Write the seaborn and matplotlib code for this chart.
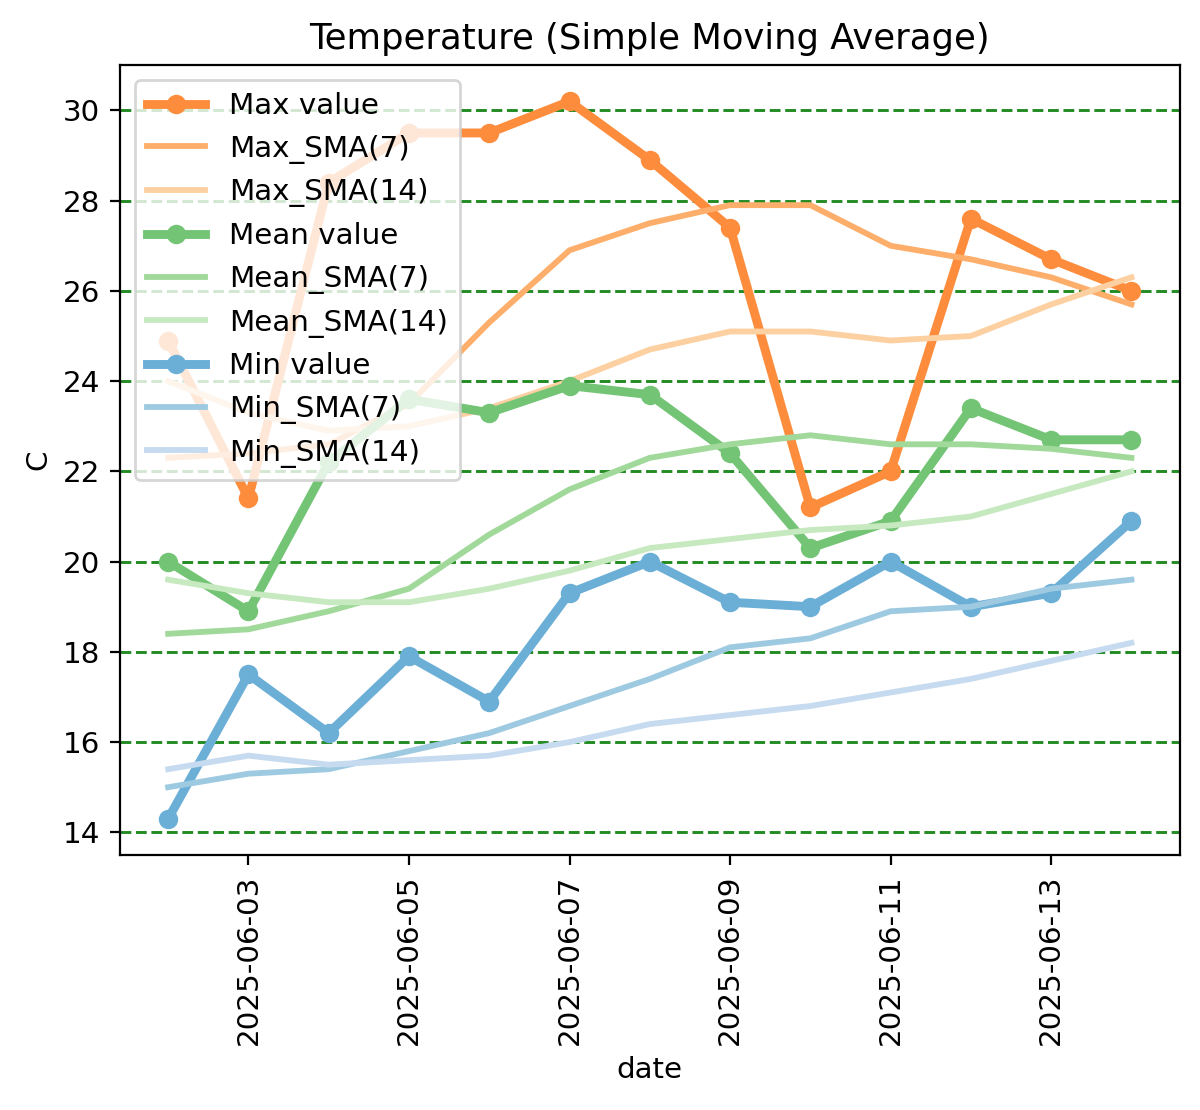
import matplotlib
matplotlib.use('Agg')
import matplotlib.pyplot as plt
import pandas as pd
import seaborn as sns

dates = pd.date_range('2025-06-02', '2025-06-14', freq='D')

max_value = [24.9, 21.4, 28.4, 29.5, 29.5, 30.2, 28.9, 27.4, 21.2, 22.0, 27.6, 26.7, 26.0]
max_sma7 = [22.3, 22.4, 22.6, 23.5, 25.3, 26.9, 27.5, 27.9, 27.9, 27.0, 26.7, 26.3, 25.7]
max_sma14 = [24.0, 23.3, 22.9, 23.0, 23.4, 24.0, 24.7, 25.1, 25.1, 24.9, 25.0, 25.7, 26.3]

mean_value = [20.0, 18.9, 22.2, 23.6, 23.3, 23.9, 23.7, 22.4, 20.3, 20.9, 23.4, 22.7, 22.7]
mean_sma7 = [18.4, 18.5, 18.9, 19.4, 20.6, 21.6, 22.3, 22.6, 22.8, 22.6, 22.6, 22.5, 22.3]
mean_sma14 = [19.6, 19.3, 19.1, 19.1, 19.4, 19.8, 20.3, 20.5, 20.7, 20.8, 21.0, 21.5, 22.0]

min_value = [14.3, 17.5, 16.2, 17.9, 16.9, 19.3, 20.0, 19.1, 19.0, 20.0, 19.0, 19.3, 20.9]
min_sma7 = [15.0, 15.3, 15.4, 15.8, 16.2, 16.8, 17.4, 18.1, 18.3, 18.9, 19.0, 19.4, 19.6]
min_sma14 = [15.4, 15.7, 15.5, 15.6, 15.7, 16.0, 16.4, 16.6, 16.8, 17.1, 17.4, 17.8, 18.2]

groups = [
    ('Max', max_value, max_sma7, max_sma14, ['#fd8d3c', '#fdae6b', '#fdd0a2']),
    ('Mean', mean_value, mean_sma7, mean_sma14, ['#74c476', '#a1d99b', '#c7e9c0']),
    ('Min', min_value, min_sma7, min_sma14, ['#6baed6', '#9ecae1', '#c6dbef']),
]

plt.rcParams['font.size'] = 10.6

fig, ax = plt.subplots(figsize=(6, 5.55), dpi=200)

for name, vals, s7, s14, cols in groups:
    sns.lineplot(x=dates, y=vals, ax=ax, color=cols[0], linewidth=3.2,
                 marker='o', markersize=7, markeredgewidth=0,
                 label=f'{name} value')
    sns.lineplot(x=dates, y=s7, ax=ax, color=cols[1], linewidth=2.1,
                 label=f'{name}_SMA(7)')
    sns.lineplot(x=dates, y=s14, ax=ax, color=cols[2], linewidth=2.1,
                 label=f'{name}_SMA(14)')

ax.yaxis.grid(True, linestyle='--', color='forestgreen', linewidth=1.05)
ax.set_yticks(range(14, 31, 2))
ax.tick_params(axis='x', rotation=90)
ax.set_xlabel('date')
ax.set_ylabel('C')
ax.set_title('Temperature (Simple Moving Average)')
ax.legend(loc='upper left')

plt.subplots_adjust(left=0.1, right=0.983, top=0.941, bottom=0.23)
plt.savefig('out.png', dpi=200)
